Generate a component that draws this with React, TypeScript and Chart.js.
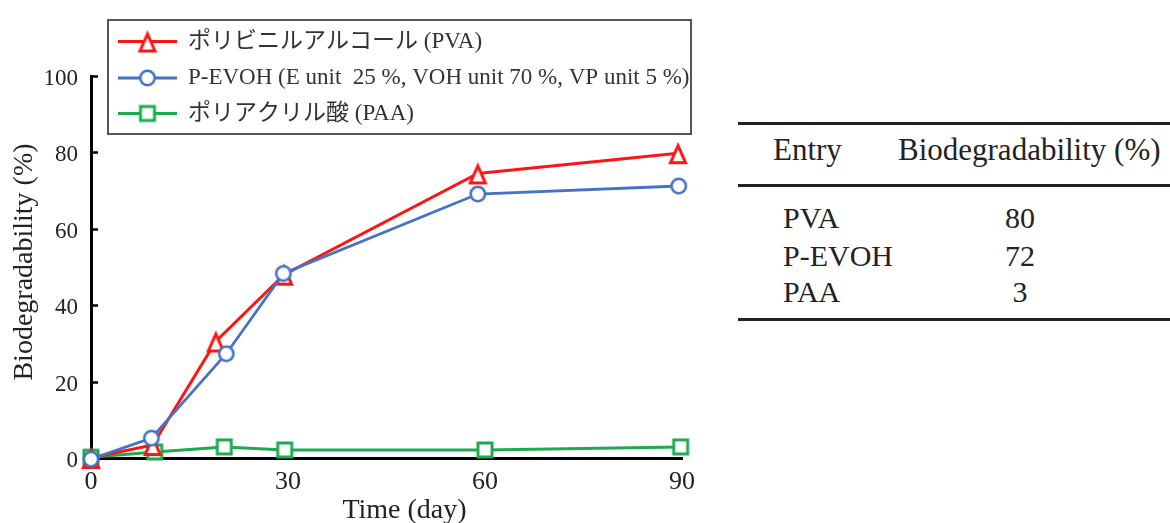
import React, { useEffect, useRef } from 'react';
import { Chart, registerables } from 'chart.js';

Chart.register(...registerables);

// ---- data ----
const pvaDays = [0, 9.4, 19.0, 29.4, 58.9, 89.4];
const pvaValues = [0, 3.4, 30.5, 48.0, 74.5, 79.8];
const evohDays = [0, 9.2, 20.6, 29.3, 58.9, 89.5];
const evohValues = [-0.3, 5.2, 27.3, 48.3, 69.1, 71.2];
const paaDays = [0, 9.7, 20.3, 29.5, 60.0, 89.8];
const paaValues = [0.2, 1.6, 2.9, 2.1, 2.1, 2.9];
const xTicks = [0, 30, 60, 90];
const yTicks = [0, 20, 40, 60, 80, 100];
const legendLabels = [
  'ポリビニルアルコール (PVA)',
  'P-EVOH (E unit  25 %, VOH unit 70 %, VP unit 5 %)',
  'ポリアクリル酸 (PAA)',
];
const xTitle = 'Time (day)';
const yTitle = 'Biodegradability (%)';
const tableHeaders = ['Entry', 'Biodegradability (%)'];
const tableEntries = ['PVA', 'P-EVOH', 'PAA'];
const tableValues = ['80', '72', '3'];

const RED = '#FF1414';
const BLUE = '#4472C4';
const GREEN = '#1EAA4E';
const SERIF = '"Liberation Serif", "Times New Roman", serif';

function makeTriangle(): HTMLCanvasElement {
  const c = document.createElement('canvas');
  c.width = 24; c.height = 26;
  const g = c.getContext('2d')!;
  g.beginPath();
  g.moveTo(12, 5.5);
  g.lineTo(4.5, 22.5);
  g.lineTo(19.5, 22.5);
  g.closePath();
  g.fillStyle = '#fff';
  g.fill();
  g.lineWidth = 3;
  g.lineJoin = 'miter';
  g.strokeStyle = RED;
  g.stroke();
  return c;
}
function makeCircle(): HTMLCanvasElement {
  const c = document.createElement('canvas');
  c.width = 20; c.height = 20;
  const g = c.getContext('2d')!;
  g.beginPath();
  g.arc(10, 10, 7.2, 0, Math.PI * 2);
  g.fillStyle = '#fff';
  g.fill();
  g.lineWidth = 2.6;
  g.strokeStyle = BLUE;
  g.stroke();
  return c;
}
function makeSquare(): HTMLCanvasElement {
  const c = document.createElement('canvas');
  c.width = 20; c.height = 20;
  const g = c.getContext('2d')!;
  g.fillStyle = '#fff';
  g.fillRect(3, 3, 14, 14);
  g.lineWidth = 3;
  g.strokeStyle = GREEN;
  g.strokeRect(3, 3, 14, 14);
  return c;
}

export default function App() {
  const ref = useRef<HTMLCanvasElement | null>(null);

  useEffect(() => {
    if (!ref.current) return;
    const tri = makeTriangle();
    const cir = makeCircle();
    const sq = makeSquare();
    const markers = [tri, cir, sq];
    const colors = [RED, BLUE, GREEN];

    const decor = {
      id: 'decor',
      beforeDatasetsDraw(chart: any) {
        const ctx = chart.ctx;
        const { left } = chart.chartArea;
        const y = chart.scales.y;
        ctx.save();
        ctx.strokeStyle = '#000';
        ctx.lineWidth = 2.5;
        yTicks.forEach((v) => {
          const py = Math.round(y.getPixelForValue(v)) + 0.5;
          ctx.beginPath();
          ctx.moveTo(left, py);
          ctx.lineTo(left + 7, py);
          ctx.stroke();
        });
        ctx.restore();
      },
      afterDraw(chart: any) {
        const ctx = chart.ctx;
        const { left, right, top, bottom } = chart.chartArea;
        ctx.save();
        // axis titles
        ctx.fillStyle = '#222';
        ctx.font = `28px ${SERIF}`;
        ctx.textAlign = 'center';
        ctx.textBaseline = 'alphabetic';
        ctx.fillText(xTitle, (left + right) / 2 + 18, bottom + 60);
        ctx.save();
        ctx.translate(32, (top + bottom) / 2 - 5);
        ctx.rotate(-Math.PI / 2);
        ctx.fillText(yTitle, 0, 0);
        ctx.restore();

        // legend box
        const bx = 108, by = 20, bw = 583, bh = 114;
        ctx.fillStyle = '#fff';
        ctx.fillRect(bx, by, bw, bh);
        ctx.strokeStyle = '#555';
        ctx.lineWidth = 2;
        ctx.strokeRect(bx, by, bw, bh);
        const rowsY = [41.5, 78, 113.5];
        legendLabels.forEach((label, i) => {
          const ry = rowsY[i];
          ctx.strokeStyle = colors[i];
          ctx.lineWidth = 3;
          ctx.beginPath();
          ctx.moveTo(118, ry);
          ctx.lineTo(177, ry);
          ctx.stroke();
          const m = markers[i];
          ctx.drawImage(m, 147.5 - m.width / 2, ry - m.height / 2);
          ctx.fillStyle = '#333';
          ctx.font = `23px ${SERIF.replace(', serif', '')}, "Noto Sans CJK JP", serif`;
          ctx.textAlign = 'left';
          ctx.textBaseline = 'middle';
          ctx.fillText(label, 188, ry);
        });
        ctx.restore();
      },
    };

    const toPts = (xs: number[], ys: number[]) => xs.map((x, i) => ({ x, y: ys[i] }));

    const chart = new Chart(ref.current, {
      type: 'line',
      data: {
        datasets: [
          {
            label: legendLabels[1],
            data: toPts(evohDays, evohValues),
            borderColor: BLUE,
            borderWidth: 2.8,
            pointStyle: cir as any,
            pointRadius: 9,
            tension: 0,
            clip: false as any,
            order: 0,
          },
          {
            label: legendLabels[0],
            data: toPts(pvaDays, pvaValues),
            borderColor: RED,
            borderWidth: 3,
            pointStyle: tri as any,
            pointRadius: 10,
            tension: 0,
            clip: false as any,
            order: 1,
          },
          {
            label: legendLabels[2],
            data: toPts(paaDays, paaValues),
            borderColor: GREEN,
            borderWidth: 3,
            pointStyle: sq as any,
            pointRadius: 9,
            tension: 0,
            clip: false as any,
            order: 2,
          },
        ],
      },
      options: {
        responsive: false,
        maintainAspectRatio: false,
        animation: false,
        events: [],
        layout: { padding: { left: 0, right: 28, top: 76, bottom: 0 } },
        plugins: { legend: { display: false }, tooltip: { enabled: false } },
        scales: {
          x: {
            type: 'linear',
            min: 0,
            max: 90,
            afterBuildTicks: (s: any) => {
              s.ticks = xTicks.map((v) => ({ value: v }));
            },
            afterFit: (s: any) => {
              s.height = 65;
            },
            grid: { display: false, drawTicks: false },
            border: { display: true, color: '#000', width: 3 },
            ticks: {
              font: { family: SERIF, size: 26 },
              color: '#222',
              padding: 9,
              maxRotation: 0,
              autoSkip: false,
            },
          },
          y: {
            type: 'linear',
            min: 0,
            max: 100,
            afterBuildTicks: (s: any) => {
              s.ticks = yTicks.map((v) => ({ value: v }));
            },
            afterFit: (s: any) => {
              s.width = 91;
            },
            grid: { display: false, drawTicks: false },
            border: { display: true, color: '#000', width: 3 },
            ticks: {
              font: { family: SERIF, size: 23 },
              color: '#222',
              padding: 13,
              labelOffset: 3,
              autoSkip: false,
            },
          },
        },
      },
      plugins: [decor],
    });
    return () => chart.destroy();
  }, []);

  const rule = (top: number) => (
    <div style={{ position: 'absolute', left: 738, top, width: 432, height: 3, background: '#222' }} />
  );
  const txt = (text: string, left: number, top: number, size: number, extra: any = {}) => (
    <div
      style={{
        position: 'absolute',
        left,
        top,
        fontSize: size,
        lineHeight: `${size}px`,
        fontFamily: SERIF,
        color: '#222',
        whiteSpace: 'pre',
        ...extra,
      }}
    >
      {text}
    </div>
  );
  const rowTops = [203, 240.6, 276.6];

  return (
    <div
      style={{
        position: 'fixed',
        left: 0,
        top: 0,
        width: 1170,
        height: 523,
        background: '#fff',
        overflow: 'hidden',
      }}
    >
      <canvas ref={ref} width={710} height={523} style={{ position: 'absolute', left: 0, top: 0 }} />
      {rule(121.5)}
      {rule(184)}
      {rule(318)}
      {txt(tableHeaders[0], 773, 134, 31)}
      {txt(tableHeaders[1], 898, 134, 31)}
      {tableEntries.map((e, i) => (
        <React.Fragment key={e}>
          {txt(e, 783, rowTops[i], 30)}
          {txt(tableValues[i], 980, rowTops[i], 30, { width: 80, textAlign: 'center' })}
        </React.Fragment>
      ))}
    </div>
  );
}
